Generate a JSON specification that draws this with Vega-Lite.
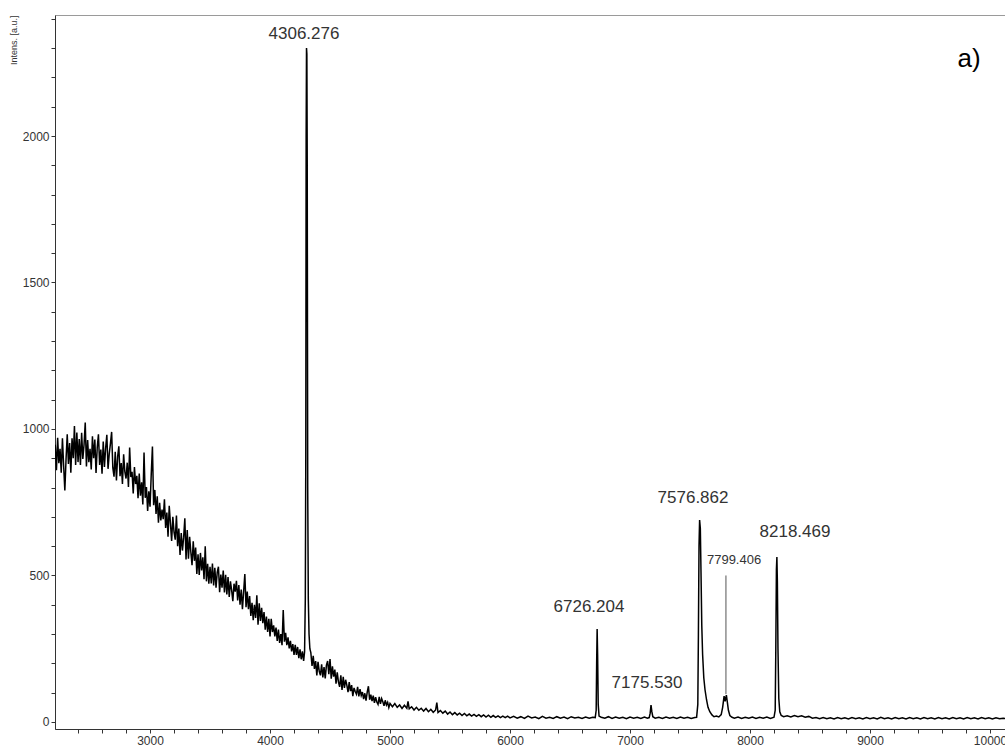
{
  "$schema": "https://vega.github.io/schema/vega-lite/v6.json",
  "width": 950,
  "height": 714,
  "autosize": "none",
  "padding": {"left": 55, "top": 15, "right": 0, "bottom": 24},
  "background": "white",
  "config": {
    "view": {"stroke": "#9a9a9a", "strokeWidth": 1},
    "font": "Liberation Sans"
  },
  "datasets": {
    "spectrum": [
{"mz":2210,"intensity":946},{"mz":2220,"intensity":859},{"mz":2230,"intensity":970},{"mz":2240,"intensity":883},{"mz":2250,"intensity":932},{"mz":2260,"intensity":851},{"mz":2270,"intensity":968},{"mz":2280,"intensity":875},{"mz":2290,"intensity":790},{"mz":2300,"intensity":897},
{"mz":2310,"intensity":982},{"mz":2320,"intensity":881},{"mz":2330,"intensity":952},{"mz":2340,"intensity":851},{"mz":2350,"intensity":968},{"mz":2360,"intensity":900},{"mz":2370,"intensity":1010},{"mz":2380,"intensity":877},{"mz":2390,"intensity":988},{"mz":2400,"intensity":887},
{"mz":2410,"intensity":966},{"mz":2420,"intensity":877},{"mz":2430,"intensity":987},{"mz":2440,"intensity":898},{"mz":2450,"intensity":946},{"mz":2460,"intensity":1022},{"mz":2470,"intensity":872},{"mz":2480,"intensity":962},{"mz":2490,"intensity":887},{"mz":2500,"intensity":932},
{"mz":2510,"intensity":862},{"mz":2520,"intensity":975},{"mz":2530,"intensity":900},{"mz":2540,"intensity":964},{"mz":2550,"intensity":850},{"mz":2560,"intensity":937},{"mz":2570,"intensity":982},{"mz":2580,"intensity":877},{"mz":2590,"intensity":930},{"mz":2600,"intensity":847},
{"mz":2610,"intensity":957},{"mz":2620,"intensity":870},{"mz":2630,"intensity":935},{"mz":2640,"intensity":980},{"mz":2650,"intensity":864},{"mz":2660,"intensity":915},{"mz":2670,"intensity":950},{"mz":2680,"intensity":990},{"mz":2690,"intensity":867},{"mz":2700,"intensity":837},
{"mz":2710,"intensity":922},{"mz":2720,"intensity":824},{"mz":2730,"intensity":906},{"mz":2740,"intensity":941},{"mz":2750,"intensity":839},{"mz":2760,"intensity":884},{"mz":2770,"intensity":812},{"mz":2780,"intensity":914},{"mz":2790,"intensity":854},{"mz":2800,"intensity":831},
{"mz":2810,"intensity":885},{"mz":2820,"intensity":802},{"mz":2830,"intensity":937},{"mz":2840,"intensity":836},{"mz":2850,"intensity":854},{"mz":2860,"intensity":780},{"mz":2870,"intensity":870},{"mz":2880,"intensity":812},{"mz":2890,"intensity":840},{"mz":2900,"intensity":764},
{"mz":2910,"intensity":848},{"mz":2920,"intensity":772},{"mz":2930,"intensity":818},{"mz":2940,"intensity":742},{"mz":2950,"intensity":920},{"mz":2960,"intensity":765},{"mz":2970,"intensity":802},{"mz":2980,"intensity":720},{"mz":2990,"intensity":787},{"mz":3000,"intensity":735},
{"mz":3010,"intensity":845},{"mz":3020,"intensity":940},{"mz":3030,"intensity":740},{"mz":3040,"intensity":792},{"mz":3050,"intensity":710},{"mz":3060,"intensity":770},{"mz":3070,"intensity":680},{"mz":3080,"intensity":748},{"mz":3090,"intensity":688},{"mz":3100,"intensity":725},
{"mz":3110,"intensity":692},{"mz":3120,"intensity":760},{"mz":3130,"intensity":662},{"mz":3140,"intensity":715},{"mz":3150,"intensity":632},{"mz":3160,"intensity":738},{"mz":3170,"intensity":678},{"mz":3180,"intensity":618},{"mz":3190,"intensity":700},{"mz":3200,"intensity":648},
{"mz":3210,"intensity":622},{"mz":3220,"intensity":705},{"mz":3230,"intensity":600},{"mz":3240,"intensity":660},{"mz":3250,"intensity":570},{"mz":3260,"intensity":645},{"mz":3270,"intensity":585},{"mz":3280,"intensity":630},{"mz":3290,"intensity":695},{"mz":3300,"intensity":555},
{"mz":3310,"intensity":655},{"mz":3320,"intensity":557},{"mz":3330,"intensity":632},{"mz":3340,"intensity":580},{"mz":3350,"intensity":535},{"mz":3360,"intensity":617},{"mz":3370,"intensity":550},{"mz":3380,"intensity":595},{"mz":3390,"intensity":505},{"mz":3400,"intensity":572},
{"mz":3410,"intensity":502},{"mz":3420,"intensity":577},{"mz":3430,"intensity":517},{"mz":3440,"intensity":562},{"mz":3450,"intensity":487},{"mz":3460,"intensity":600},{"mz":3470,"intensity":480},{"mz":3480,"intensity":540},{"mz":3490,"intensity":472},{"mz":3500,"intensity":530},
{"mz":3510,"intensity":473},{"mz":3520,"intensity":541},{"mz":3530,"intensity":466},{"mz":3540,"intensity":526},{"mz":3550,"intensity":458},{"mz":3560,"intensity":511},{"mz":3570,"intensity":530},{"mz":3580,"intensity":443},{"mz":3590,"intensity":503},{"mz":3600,"intensity":458},
{"mz":3610,"intensity":517},{"mz":3620,"intensity":442},{"mz":3630,"intensity":502},{"mz":3640,"intensity":435},{"mz":3650,"intensity":495},{"mz":3660,"intensity":427},{"mz":3670,"intensity":480},{"mz":3680,"intensity":450},{"mz":3690,"intensity":412},{"mz":3700,"intensity":472},
{"mz":3710,"intensity":445},{"mz":3720,"intensity":482},{"mz":3730,"intensity":415},{"mz":3740,"intensity":467},{"mz":3750,"intensity":400},{"mz":3760,"intensity":452},{"mz":3770,"intensity":385},{"mz":3780,"intensity":445},{"mz":3790,"intensity":505},{"mz":3800,"intensity":392},
{"mz":3810,"intensity":445},{"mz":3820,"intensity":385},{"mz":3830,"intensity":430},{"mz":3840,"intensity":362},{"mz":3850,"intensity":407},{"mz":3860,"intensity":347},{"mz":3870,"intensity":400},{"mz":3880,"intensity":355},{"mz":3890,"intensity":432},{"mz":3900,"intensity":332},
{"mz":3910,"intensity":405},{"mz":3920,"intensity":345},{"mz":3930,"intensity":390},{"mz":3940,"intensity":337},{"mz":3950,"intensity":375},{"mz":3960,"intensity":315},{"mz":3970,"intensity":360},{"mz":3980,"intensity":307},{"mz":3990,"intensity":352},{"mz":4000,"intensity":292},
{"mz":4010,"intensity":352},{"mz":4020,"intensity":307},{"mz":4030,"intensity":330},{"mz":4040,"intensity":292},{"mz":4050,"intensity":322},{"mz":4060,"intensity":277},{"mz":4070,"intensity":315},{"mz":4080,"intensity":270},{"mz":4090,"intensity":300},{"mz":4100,"intensity":262},
{"mz":4110,"intensity":382},{"mz":4120,"intensity":274},{"mz":4130,"intensity":304},{"mz":4140,"intensity":262},{"mz":4150,"intensity":289},{"mz":4160,"intensity":251},{"mz":4170,"intensity":277},{"mz":4180,"intensity":241},{"mz":4190,"intensity":266},{"mz":4200,"intensity":229},
{"mz":4210,"intensity":263},{"mz":4220,"intensity":229},{"mz":4230,"intensity":256},{"mz":4240,"intensity":218},{"mz":4250,"intensity":248},{"mz":4260,"intensity":214},{"mz":4270,"intensity":241},{"mz":4280,"intensity":208},
{"mz":4288,"intensity":240},{"mz":4294,"intensity":420},{"mz":4298,"intensity":900},{"mz":4301,"intensity":2000},{"mz":4304,"intensity":2300},{"mz":4307,"intensity":2280},{"mz":4310,"intensity":1900},{"mz":4314,"intensity":800},{"mz":4319,"intensity":420},{"mz":4325,"intensity":300},{"mz":4332,"intensity":250},
{"mz":4340,"intensity":237},{"mz":4350,"intensity":191},{"mz":4360,"intensity":226},{"mz":4370,"intensity":181},{"mz":4380,"intensity":208},{"mz":4390,"intensity":159},{"mz":4400,"intensity":205},{"mz":4410,"intensity":173},{"mz":4420,"intensity":159},{"mz":4430,"intensity":197},
{"mz":4440,"intensity":152},{"mz":4450,"intensity":187},{"mz":4460,"intensity":149},{"mz":4470,"intensity":194},{"mz":4480,"intensity":208},{"mz":4490,"intensity":163},{"mz":4500,"intensity":215},{"mz":4510,"intensity":148},{"mz":4520,"intensity":190},{"mz":4530,"intensity":155},
{"mz":4540,"intensity":179},{"mz":4550,"intensity":131},{"mz":4560,"intensity":169},{"mz":4570,"intensity":137},{"mz":4580,"intensity":120},{"mz":4590,"intensity":159},{"mz":4600,"intensity":109},{"mz":4610,"intensity":154},{"mz":4620,"intensity":116},{"mz":4630,"intensity":144},
{"mz":4640,"intensity":126},{"mz":4650,"intensity":102},{"mz":4660,"intensity":136},{"mz":4670,"intensity":105},{"mz":4680,"intensity":126},{"mz":4690,"intensity":88},{"mz":4700,"intensity":116},{"mz":4710,"intensity":104},{"mz":4720,"intensity":95},{"mz":4730,"intensity":120},
{"mz":4740,"intensity":87},{"mz":4750,"intensity":112},{"mz":4760,"intensity":90},{"mz":4770,"intensity":102},{"mz":4780,"intensity":78},{"mz":4790,"intensity":98},{"mz":4800,"intensity":73},{"mz":4810,"intensity":102},{"mz":4820,"intensity":122},{"mz":4830,"intensity":76},
{"mz":4840,"intensity":93},{"mz":4850,"intensity":71},{"mz":4860,"intensity":90},{"mz":4870,"intensity":65},{"mz":4880,"intensity":85},{"mz":4890,"intensity":68},{"mz":4900,"intensity":60},{"mz":4910,"intensity":86},{"mz":4920,"intensity":62},{"mz":4930,"intensity":80},
{"mz":4940,"intensity":69},{"mz":4950,"intensity":55},{"mz":4960,"intensity":74},{"mz":4970,"intensity":58},{"mz":4980,"intensity":67},{"mz":4990,"intensity":49},{"mz":5000,"intensity":63},
{"mz":5020,"intensity":52},{"mz":5040,"intensity":63},{"mz":5060,"intensity":50},{"mz":5080,"intensity":58},{"mz":5100,"intensity":46},{"mz":5120,"intensity":57},{"mz":5140,"intensity":47},{"mz":5150,"intensity":70},{"mz":5160,"intensity":45},{"mz":5180,"intensity":52},
{"mz":5200,"intensity":41},{"mz":5220,"intensity":50},{"mz":5240,"intensity":40},{"mz":5260,"intensity":47},{"mz":5280,"intensity":37},{"mz":5300,"intensity":46},{"mz":5320,"intensity":35},{"mz":5340,"intensity":43},{"mz":5360,"intensity":33},{"mz":5380,"intensity":41},
{"mz":5390,"intensity":66},{"mz":5400,"intensity":32},{"mz":5420,"intensity":39},{"mz":5440,"intensity":30},{"mz":5460,"intensity":37},{"mz":5480,"intensity":27},{"mz":5500,"intensity":34},{"mz":5520,"intensity":25},{"mz":5540,"intensity":32},{"mz":5560,"intensity":24},
{"mz":5580,"intensity":30},{"mz":5600,"intensity":22},{"mz":5620,"intensity":29},{"mz":5640,"intensity":21},{"mz":5660,"intensity":27},{"mz":5680,"intensity":20},{"mz":5700,"intensity":26},{"mz":5720,"intensity":19},{"mz":5740,"intensity":25},{"mz":5760,"intensity":18},
{"mz":5780,"intensity":24},{"mz":5800,"intensity":17},{"mz":5820,"intensity":23},{"mz":5840,"intensity":16},{"mz":5860,"intensity":22},{"mz":5880,"intensity":16},{"mz":5900,"intensity":21},{"mz":5920,"intensity":15},{"mz":5940,"intensity":20},{"mz":5960,"intensity":15},
{"mz":5980,"intensity":20},{"mz":6000,"intensity":14},
{"mz":6030,"intensity":19},{"mz":6060,"intensity":13},{"mz":6090,"intensity":18},{"mz":6120,"intensity":12},{"mz":6150,"intensity":20},{"mz":6180,"intensity":14},{"mz":6210,"intensity":17},{"mz":6240,"intensity":11},{"mz":6270,"intensity":19},{"mz":6300,"intensity":13},
{"mz":6330,"intensity":16},{"mz":6360,"intensity":12},{"mz":6390,"intensity":18},{"mz":6420,"intensity":13},{"mz":6450,"intensity":17},{"mz":6480,"intensity":11},{"mz":6510,"intensity":18},{"mz":6540,"intensity":14},{"mz":6570,"intensity":16},{"mz":6600,"intensity":12},
{"mz":6630,"intensity":17},{"mz":6660,"intensity":13},{"mz":6690,"intensity":16},
{"mz":6710,"intensity":15},{"mz":6718,"intensity":40},{"mz":6722,"intensity":200},{"mz":6726,"intensity":317},{"mz":6730,"intensity":230},{"mz":6735,"intensity":60},{"mz":6742,"intensity":20},
{"mz":6760,"intensity":16},{"mz":6790,"intensity":13},{"mz":6820,"intensity":18},{"mz":6850,"intensity":12},{"mz":6880,"intensity":17},{"mz":6910,"intensity":13},{"mz":6940,"intensity":16},{"mz":6970,"intensity":11},{"mz":7000,"intensity":17},{"mz":7030,"intensity":13},
{"mz":7060,"intensity":16},{"mz":7090,"intensity":12},{"mz":7120,"intensity":17},{"mz":7145,"intensity":13},
{"mz":7160,"intensity":15},{"mz":7168,"intensity":30},{"mz":7175,"intensity":58},{"mz":7182,"intensity":35},{"mz":7190,"intensity":18},
{"mz":7210,"intensity":13},{"mz":7240,"intensity":16},{"mz":7270,"intensity":12},{"mz":7300,"intensity":17},{"mz":7330,"intensity":13},{"mz":7360,"intensity":16},{"mz":7390,"intensity":12},{"mz":7420,"intensity":17},{"mz":7450,"intensity":13},{"mz":7480,"intensity":16},
{"mz":7510,"intensity":12},{"mz":7540,"intensity":15},{"mz":7555,"intensity":16},
{"mz":7565,"intensity":60},{"mz":7570,"intensity":300},{"mz":7575,"intensity":600},{"mz":7580,"intensity":689},{"mz":7586,"intensity":660},{"mz":7592,"intensity":500},{"mz":7598,"intensity":330},{"mz":7605,"intensity":230},{"mz":7615,"intensity":150},{"mz":7625,"intensity":110},
{"mz":7638,"intensity":75},{"mz":7650,"intensity":50},{"mz":7665,"intensity":35},{"mz":7683,"intensity":24},{"mz":7700,"intensity":18},{"mz":7720,"intensity":20},{"mz":7740,"intensity":17},
{"mz":7760,"intensity":25},{"mz":7772,"intensity":50},{"mz":7784,"intensity":88},{"mz":7793,"intensity":70},{"mz":7803,"intensity":92},{"mz":7811,"intensity":68},{"mz":7820,"intensity":40},{"mz":7832,"intensity":22},
{"mz":7850,"intensity":16},{"mz":7870,"intensity":13},{"mz":7900,"intensity":17},{"mz":7930,"intensity":12},{"mz":7960,"intensity":16},{"mz":7990,"intensity":13},{"mz":8020,"intensity":17},{"mz":8050,"intensity":12},{"mz":8080,"intensity":16},{"mz":8110,"intensity":13},
{"mz":8140,"intensity":17},{"mz":8170,"intensity":12},{"mz":8200,"intensity":16},
{"mz":8210,"intensity":40},{"mz":8215,"intensity":250},{"mz":8220,"intensity":520},{"mz":8224,"intensity":563},{"mz":8228,"intensity":480},{"mz":8233,"intensity":250},{"mz":8240,"intensity":80},{"mz":8248,"intensity":35},{"mz":8260,"intensity":22},
{"mz":8280,"intensity":18},{"mz":8310,"intensity":21},{"mz":8340,"intensity":17},{"mz":8370,"intensity":22},{"mz":8400,"intensity":18},{"mz":8430,"intensity":21},{"mz":8460,"intensity":16},{"mz":8490,"intensity":19},{"mz":8520,"intensity":13},{"mz":8550,"intensity":15},
{"mz":8580,"intensity":11},{"mz":8610,"intensity":15},{"mz":8640,"intensity":11},{"mz":8670,"intensity":14},{"mz":8700,"intensity":10},{"mz":8730,"intensity":15},{"mz":8760,"intensity":11},{"mz":8790,"intensity":14},{"mz":8820,"intensity":10},{"mz":8850,"intensity":15},
{"mz":8880,"intensity":11},{"mz":8910,"intensity":14},{"mz":8940,"intensity":10},{"mz":8970,"intensity":15},{"mz":9000,"intensity":11},{"mz":9030,"intensity":14},{"mz":9060,"intensity":10},{"mz":9090,"intensity":16},{"mz":9120,"intensity":11},{"mz":9150,"intensity":14},
{"mz":9180,"intensity":10},{"mz":9210,"intensity":15},{"mz":9240,"intensity":11},{"mz":9270,"intensity":14},{"mz":9300,"intensity":10},{"mz":9330,"intensity":15},{"mz":9360,"intensity":11},{"mz":9390,"intensity":14},{"mz":9420,"intensity":10},{"mz":9450,"intensity":15},
{"mz":9480,"intensity":11},{"mz":9510,"intensity":14},{"mz":9540,"intensity":10},{"mz":9570,"intensity":15},{"mz":9600,"intensity":11},{"mz":9630,"intensity":14},{"mz":9660,"intensity":10},{"mz":9690,"intensity":15},{"mz":9720,"intensity":11},{"mz":9750,"intensity":14},
{"mz":9780,"intensity":10},{"mz":9810,"intensity":15},{"mz":9840,"intensity":11},{"mz":9870,"intensity":14},{"mz":9900,"intensity":10},{"mz":9930,"intensity":15},{"mz":9960,"intensity":11},{"mz":9990,"intensity":14},{"mz":10020,"intensity":10},{"mz":10050,"intensity":14},
{"mz":10080,"intensity":11},{"mz":10110,"intensity":13},{"mz":10125,"intensity":12}
    ],
    "marker": [{"mz": 7799.4, "low": 95, "high": 500}],
    "labels": [
      {"label": "4306.276", "mz": 4283, "intensity": 2348},
      {"label": "6726.204", "mz": 6658, "intensity": 392},
      {"label": "7175.530", "mz": 7142, "intensity": 133},
      {"label": "7576.862", "mz": 7525, "intensity": 764},
      {"label": "8218.469", "mz": 8375, "intensity": 648}
    ],
    "smallLabels": [{"label": "7799.406", "mz": 7867, "intensity": 553}],
    "panel": [{"label": "a)", "mz": 9825, "intensity": 2263}]
  },
  "layer": [
    {
      "data": {"name": "spectrum"},
      "mark": {"type": "line", "color": "#000000", "strokeWidth": 1.5, "clip": true, "interpolate": "linear"},
      "encoding": {
        "x": {
          "field": "mz", "type": "quantitative",
          "scale": {"domain": [2208, 10125], "nice": false, "zero": false},
          "axis": {
            "title": null,
            "values": [2400,2600,2800,3000,3200,3400,3600,3800,4000,4200,4400,4600,4800,5000,5200,5400,5600,5800,6000,6200,6400,6600,6800,7000,7200,7400,7600,7800,8000,8200,8400,8600,8800,9000,9200,9400,9600,9800,10000],
            "tickCount": 100,
            "labelExpr": "datum.value % 1000 === 0 ? datum.value : ''",
            "grid": false,
            "domainColor": "#333333",
            "tickColor": "#333333",
            "tickSize": 4,
            "labelFont": "Liberation Sans",
            "labelFontSize": 12,
            "labelColor": "#333333",
            "labelPadding": 2,
            "labelFlush": false,
            "labelOverlap": false
          }
        },
        "y": {
          "field": "intensity", "type": "quantitative",
          "scale": {"domain": [-24, 2413], "nice": false, "zero": false},
          "axis": {
            "title": "Intens. [a.u.]",
            "titleFontSize": 9,
            "titleFont": "Liberation Sans",
            "titleFontWeight": "normal",
            "titleColor": "#333333",
            "titleAnchor": "end",
            "titlePadding": 4,
            "values": [0,100,200,300,400,500,600,700,800,900,1000,1100,1200,1300,1400,1500,1600,1700,1800,1900,2000,2100,2200,2300,2400],
            "tickCount": 100,
            "labelExpr": "datum.value % 500 === 0 ? datum.value : ''",
            "grid": false,
            "domainColor": "#333333",
            "tickColor": "#333333",
            "tickSize": 4,
            "labelFont": "Liberation Sans",
            "labelFontSize": 12,
            "labelColor": "#333333",
            "labelPadding": 2,
            "labelOverlap": false
          }
        }
      }
    },
    {
      "data": {"name": "marker"},
      "mark": {"type": "rule", "color": "#555555", "strokeWidth": 1},
      "encoding": {
        "x": {"field": "mz", "type": "quantitative"},
        "y": {"field": "low", "type": "quantitative"},
        "y2": {"field": "high"}
      }
    },
    {
      "data": {"name": "labels"},
      "mark": {"type": "text", "font": "Liberation Sans", "fontSize": 17, "color": "#333333", "align": "center", "baseline": "middle"},
      "encoding": {
        "x": {"field": "mz", "type": "quantitative"},
        "y": {"field": "intensity", "type": "quantitative"},
        "text": {"field": "label"}
      }
    },
    {
      "data": {"name": "smallLabels"},
      "mark": {"type": "text", "font": "Liberation Sans", "fontSize": 13, "color": "#333333", "align": "center", "baseline": "middle"},
      "encoding": {
        "x": {"field": "mz", "type": "quantitative"},
        "y": {"field": "intensity", "type": "quantitative"},
        "text": {"field": "label"}
      }
    },
    {
      "data": {"name": "panel"},
      "mark": {"type": "text", "font": "Liberation Sans", "fontSize": 26, "color": "#000000", "align": "center", "baseline": "middle"},
      "encoding": {
        "x": {"field": "mz", "type": "quantitative"},
        "y": {"field": "intensity", "type": "quantitative"},
        "text": {"field": "label"}
      }
    }
  ]
}
